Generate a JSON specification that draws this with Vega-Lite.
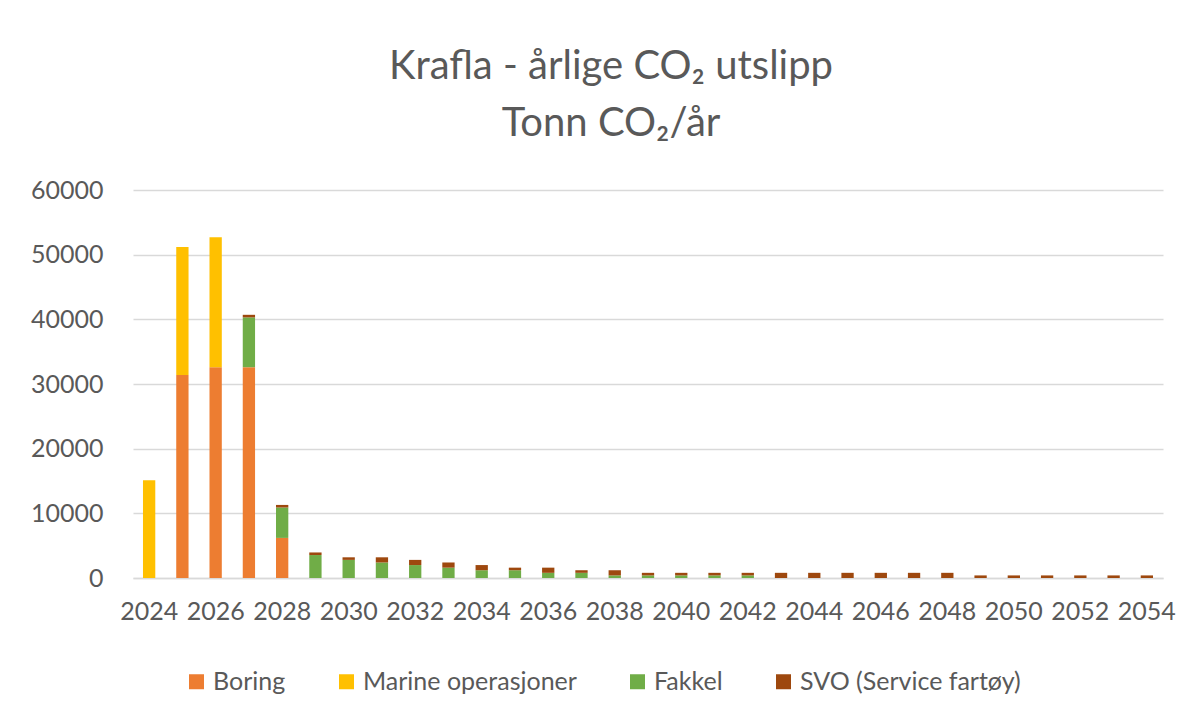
{
  "$schema": "https://vega.github.io/schema/vega-lite/v6.json",
  "autosize": {"type": "none"},
  "width": 1030,
  "height": 388,
  "padding": {"left": 133, "top": 190, "right": 39, "bottom": 147},
  "background": "white",
  "title": {
    "text": ["Krafla - årlige CO₂ utslipp", "Tonn CO₂/år"],
    "fontSize": 40,
    "font": "Lato",
    "fontWeight": "normal",
    "color": "#595959",
    "lineHeight": 57,
    "anchor": "middle",
    "dx": -37,
    "offset": 34
  },
  "data": {
    "values": [
      {"year": 2024, "series": "Marine operasjoner", "value": 15100},
      {"year": 2025, "series": "Boring", "value": 31400},
      {"year": 2025, "series": "Marine operasjoner", "value": 19800},
      {"year": 2026, "series": "Boring", "value": 32600},
      {"year": 2026, "series": "Marine operasjoner", "value": 20100},
      {"year": 2027, "series": "Boring", "value": 32600},
      {"year": 2027, "series": "Fakkel", "value": 7700},
      {"year": 2027, "series": "SVO (Service fartøy)", "value": 400},
      {"year": 2028, "series": "Boring", "value": 6200},
      {"year": 2028, "series": "Fakkel", "value": 4700},
      {"year": 2028, "series": "SVO (Service fartøy)", "value": 400},
      {"year": 2029, "series": "Fakkel", "value": 3550},
      {"year": 2029, "series": "SVO (Service fartøy)", "value": 400},
      {"year": 2030, "series": "Fakkel", "value": 2800},
      {"year": 2030, "series": "SVO (Service fartøy)", "value": 400},
      {"year": 2031, "series": "Fakkel", "value": 2400},
      {"year": 2031, "series": "SVO (Service fartøy)", "value": 800},
      {"year": 2032, "series": "Fakkel", "value": 2000},
      {"year": 2032, "series": "SVO (Service fartøy)", "value": 800},
      {"year": 2033, "series": "Fakkel", "value": 1600},
      {"year": 2033, "series": "SVO (Service fartøy)", "value": 800},
      {"year": 2034, "series": "Fakkel", "value": 1200},
      {"year": 2034, "series": "SVO (Service fartøy)", "value": 800},
      {"year": 2035, "series": "Fakkel", "value": 1200},
      {"year": 2035, "series": "SVO (Service fartøy)", "value": 400},
      {"year": 2036, "series": "Fakkel", "value": 800},
      {"year": 2036, "series": "SVO (Service fartøy)", "value": 800},
      {"year": 2037, "series": "Fakkel", "value": 800},
      {"year": 2037, "series": "SVO (Service fartøy)", "value": 400},
      {"year": 2038, "series": "Fakkel", "value": 400},
      {"year": 2038, "series": "SVO (Service fartøy)", "value": 800},
      {"year": 2039, "series": "Fakkel", "value": 400},
      {"year": 2039, "series": "SVO (Service fartøy)", "value": 400},
      {"year": 2040, "series": "Fakkel", "value": 400},
      {"year": 2040, "series": "SVO (Service fartøy)", "value": 400},
      {"year": 2041, "series": "Fakkel", "value": 400},
      {"year": 2041, "series": "SVO (Service fartøy)", "value": 400},
      {"year": 2042, "series": "Fakkel", "value": 400},
      {"year": 2042, "series": "SVO (Service fartøy)", "value": 400},
      {"year": 2043, "series": "SVO (Service fartøy)", "value": 800},
      {"year": 2044, "series": "SVO (Service fartøy)", "value": 800},
      {"year": 2045, "series": "SVO (Service fartøy)", "value": 800},
      {"year": 2046, "series": "SVO (Service fartøy)", "value": 800},
      {"year": 2047, "series": "SVO (Service fartøy)", "value": 800},
      {"year": 2048, "series": "SVO (Service fartøy)", "value": 800},
      {"year": 2049, "series": "SVO (Service fartøy)", "value": 400},
      {"year": 2050, "series": "SVO (Service fartøy)", "value": 400},
      {"year": 2051, "series": "SVO (Service fartøy)", "value": 400},
      {"year": 2052, "series": "SVO (Service fartøy)", "value": 400},
      {"year": 2053, "series": "SVO (Service fartøy)", "value": 400},
      {"year": 2054, "series": "SVO (Service fartøy)", "value": 400}
    ]
  },
  "transform": [
    {"calculate": "indexof(['Boring','Marine operasjoner','Fakkel','SVO (Service fartøy)'], datum.series)", "as": "order"}
  ],
  "mark": {"type": "bar"},
  "encoding": {
    "x": {
      "field": "year",
      "type": "ordinal",
      "scale": {"paddingInner": 0.63, "paddingOuter": 0.3},
      "axis": {
        "title": null,
        "values": [2024, 2026, 2028, 2030, 2032, 2034, 2036, 2038, 2040, 2042, 2044, 2046, 2048, 2050, 2052, 2054],
        "labelAngle": 0,
        "ticks": false,
        "domain": true,
        "domainColor": "#D9D9D9",
        "domainWidth": 1.5,
        "labelPadding": 21,
        "labelFontSize": 25,
        "labelFont": "Lato",
        "labelColor": "#595959",
        "labelOverlap": false
      }
    },
    "y": {
      "field": "value",
      "type": "quantitative",
      "aggregate": "sum",
      "stack": "zero",
      "scale": {"domain": [0, 60000]},
      "axis": {
        "title": null,
        "values": [0, 10000, 20000, 30000, 40000, 50000, 60000],
        "format": "d",
        "domain": false,
        "ticks": false,
        "labelPadding": 30,
        "labelFontSize": 25,
        "labelFont": "Lato",
        "labelColor": "#595959",
        "gridColor": "#D9D9D9",
        "gridWidth": 1.5
      }
    },
    "color": {
      "field": "series",
      "type": "nominal",
      "scale": {
        "domain": ["Boring", "Marine operasjoner", "Fakkel", "SVO (Service fartøy)"],
        "range": ["#ED7D31", "#FFC000", "#70AD47", "#9E480E"]
      },
      "legend": {
        "title": null,
        "orient": "none",
        "direction": "horizontal",
        "legendX": 51,
        "legendY": 479,
        "symbolType": "square",
        "symbolSize": 225,
        "symbolStrokeWidth": 0,
        "labelFontSize": 25,
        "labelFont": "Lato",
        "labelColor": "#595959",
        "labelLimit": 0,
        "columnPadding": 48,
        "labelOffset": 4
      }
    },
    "order": {"field": "order", "type": "quantitative"}
  },
  "config": {
    "view": {"stroke": null}
  }
}
